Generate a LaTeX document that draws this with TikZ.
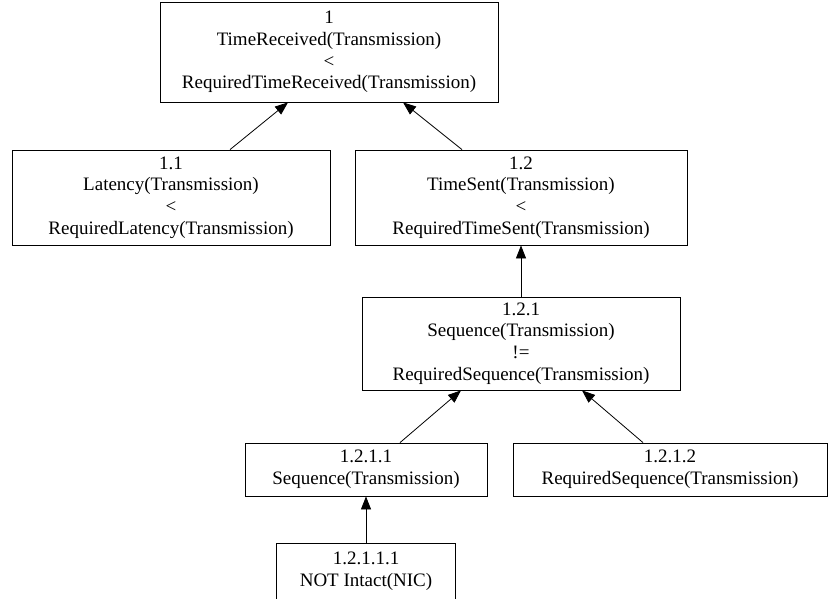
\documentclass[tikz,border=0pt]{standalone}
\usepackage{fontspec}
\setmainfont{Liberation Serif}
\usetikzlibrary{arrows.meta}
\begin{document}
\begin{tikzpicture}[x=1pt, y=-1pt, thick, >={Triangle[length=13pt,width=10pt]},
    main/.style = {draw, rectangle, align=center, inner sep=2pt, minimum height=53pt,
                   font=\fontsize{19}{21.8}\selectfont}]
    \useasboundingbox (0,0) rectangle (832,598);
    \node[main, minimum width=338pt, minimum height=100pt] (1) at (329,52)
        {1\\TimeReceived(Transmission)\\<\\RequiredTimeReceived(Transmission)};
    \node[main, minimum width=318pt, minimum height=95pt, below of=1, node distance=145.5pt, xshift=-158pt] (11)
        {1.1\\Latency(Transmission)\\<\\RequiredLatency(Transmission)};
    \node[main, minimum width=332pt, minimum height=95pt, below of=1, node distance=145.5pt, xshift=192pt] (12)
        {1.2\\TimeSent(Transmission)\\<\\RequiredTimeSent(Transmission)};
    \node[main, minimum width=318pt, minimum height=93pt, below of=12, node distance=146pt] (121)
        {1.2.1\\Sequence(Transmission)\\!=\\RequiredSequence(Transmission)};
    \node[main, minimum width=242pt, below of=121, node distance=126pt, xshift=-155pt] (1211)
        {1.2.1.1\\Sequence(Transmission)};
    \node[main, minimum width=314pt, below of=121, node distance=126pt, xshift=149pt] (1212)
        {1.2.1.2\\RequiredSequence(Transmission)};
    \node[main, minimum width=179pt, minimum height=56pt, below of=1211, node distance=102pt] (12111)
        {1.2.1.1.1\\NOT Intact(NIC)};
    \draw[->] ([xshift=59pt]11.north) -- ([xshift=-41pt]1.south);
    \draw[->] ([xshift=-59pt]12.north) -- ([xshift=74pt]1.south);
    \draw[->] (121) -- (12);
    \draw[->] ([xshift=34pt]1211.north) -- ([xshift=-60pt]121.south);
    \draw[->] ([xshift=-27pt]1212.north) -- ([xshift=61pt]121.south);
    \draw[->] (12111) -- (1211);
\end{tikzpicture}
\end{document}
